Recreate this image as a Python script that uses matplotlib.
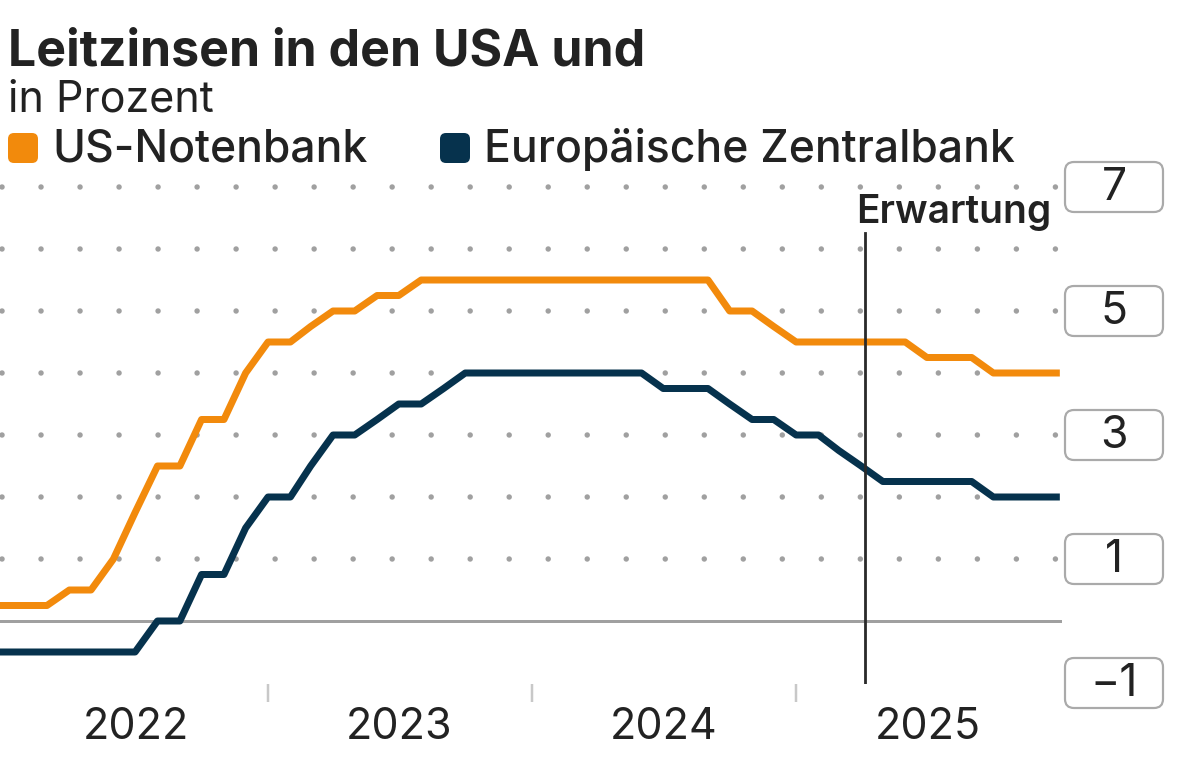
import numpy as np
import pandas as pd
import matplotlib
matplotlib.use("Agg")
import matplotlib.pyplot as plt
from matplotlib.patches import FancyBboxPatch
from matplotlib.transforms import IdentityTransform

plt.rcParams['font.family'] = ['Inter', 'DejaVu Sans']
plt.rcParams['lines.scale_dashes'] = False

# monthly values, Dec 2021 .. Jan 2026 (value at start of month)
months = pd.date_range('2021-12-01', '2026-01-01', freq='MS')

fed = [0.25,
       0.25, 0.25, 0.25, 0.5, 0.5, 1.0, 1.75, 2.5, 2.5, 3.25, 3.25, 4.0,
       4.5, 4.5, 4.75, 5.0, 5.0, 5.25, 5.25, 5.5, 5.5, 5.5, 5.5, 5.5,
       5.5, 5.5, 5.5, 5.5, 5.5, 5.5, 5.5, 5.5, 5.5, 5.0, 5.0, 4.75,
       4.5, 4.5, 4.5, 4.5, 4.5, 4.5, 4.25, 4.25, 4.25, 4.0, 4.0, 4.0,
       4.0]

ecb = [-0.5,
       -0.5, -0.5, -0.5, -0.5, -0.5, -0.5, -0.5, 0.0, 0.0, 0.75, 0.75, 1.5,
       2.0, 2.0, 2.5, 3.0, 3.0, 3.25, 3.5, 3.5, 3.75, 4.0, 4.0, 4.0,
       4.0, 4.0, 4.0, 4.0, 4.0, 4.0, 3.75, 3.75, 3.75, 3.5, 3.25, 3.25,
       3.0, 3.0, 2.75, 2.5, 2.25, 2.25, 2.25, 2.25, 2.25, 2.0, 2.0, 2.0,
       2.0]

years = [2022, 2023, 2024, 2025]
ytick_vals = [7, 5, 3, 1, -1]
ytick_labels = ['7', '5', '3', '1', '\u22121']
forecast_start = pd.Timestamp('2025-04-06')

ORANGE = '#f28a0c'
NAVY = '#06324d'
TEXT = '#222222'
GREY = '#a0a0a0'

W, H = 1200, 765
fig = plt.figure(figsize=(W / 100, H / 100), dpi=100)

# axes placed in pixel terms: top 160, bottom 684, right edge 1062
ax_top, ax_bot, ax_right = 160, 684, 1062
ax = fig.add_axes([0, (H - ax_bot) / H, ax_right / W, (ax_bot - ax_top) / H])
zero_px, px_per_unit = 621, 62.0
ax.set_ylim(-(ax_bot - zero_px) / px_per_unit, (zero_px - ax_top) / px_per_unit)
ax.set_xlim(pd.Timestamp('2021-12-26'), pd.Timestamp('2026-01-04'))
for s in ax.spines.values():
    s.set_visible(False)
ax.patch.set_alpha(0)

# dotted grid
px = 0.72
for v in range(1, 8):
    ax.axhline(v, color=GREY, lw=5.5 * px, dash_capstyle='round',
               linestyle=(37 * px, (0.01, 39 * px)), zorder=1)
ax.axhline(0, color='#a0a0a0', lw=3 * px, zorder=2)

ax.plot(months, fed, color=ORANGE, lw=7 * px, solid_joinstyle='round',
        solid_capstyle='butt', zorder=4)
ax.plot(months, ecb, color=NAVY, lw=7 * px, solid_joinstyle='round',
        solid_capstyle='butt', zorder=4)

# forecast marker
line_top = (ax_bot - 233) / (ax_bot - ax_top)
ax.axvline(forecast_start, ymin=0, ymax=line_top, color='#2a2a2a', lw=2.8 * px, zorder=5)
ax.annotate('Erwartung', xy=(forecast_start, 0), xycoords=('data', 'axes fraction'),
            xytext=(-9 * px, (ax_bot - 223) * px), textcoords='offset points',
            ha='left', va='baseline', fontsize=28, fontweight='semibold', color=TEXT)

# x axis: year boundaries as ticks, labels mid-year
ax.set_yticks([])
ax.set_xticks([pd.Timestamp(f'{y}-01-01') for y in years[1:]], minor=True)
ax.set_xticks([pd.Timestamp(f'{y}-07-02') for y in years])
ax.set_xticklabels([str(y) for y in years])
ax.tick_params(axis='x', which='minor', length=18 * px, width=2.5 * px, color='#c8c8c8', direction='out')
ax.tick_params(axis='x', which='major', length=0, pad=23 * px, labelsize=31, labelcolor=TEXT)

# right-hand y labels in rounded boxes
bx0, bx1, bh = 1065, 1163, 50
for v, lab in zip(ytick_vals, ytick_labels):
    yc = ax.transData.transform((0, v))[1]
    box = FancyBboxPatch((bx0, yc - bh / 2), bx1 - bx0, bh,
                         boxstyle='round,pad=0,rounding_size=9',
                         transform=IdentityTransform(), fc='white',
                         ec='#aaaaaa', lw=2.2 * px, zorder=1)
    fig.patches.append(box)
    fig.text((bx0 + bx1) / 2 / W, (yc - 1) / H, lab, ha='center', va='center',
             fontsize=32, color=TEXT, zorder=5)

# title, subtitle, legend
fig.text(8 / W, 1 - 65 / H, 'Leitzinsen in den USA und', ha='left', va='baseline',
         fontsize=36, fontweight='bold', color=TEXT)
fig.text(8 / W, 1 - 112 / H, 'in Prozent', ha='left', va='baseline',
         fontsize=31, color=TEXT)
for x0, col, lab in [(8, ORANGE, 'US-Notenbank'), (440, NAVY, 'Europäische Zentralbank')]:
    sq = FancyBboxPatch((x0, H - 163), 30, 30, boxstyle='round,pad=0,rounding_size=6',
                        transform=IdentityTransform(), fc=col, ec='none')
    fig.patches.append(sq)
    fig.text((x0 + 44) / W, 1 - 162 / H, lab, ha='left', va='baseline',
             fontsize=32, fontweight='medium', color=TEXT)

fig.savefig('out.png', dpi=100)
